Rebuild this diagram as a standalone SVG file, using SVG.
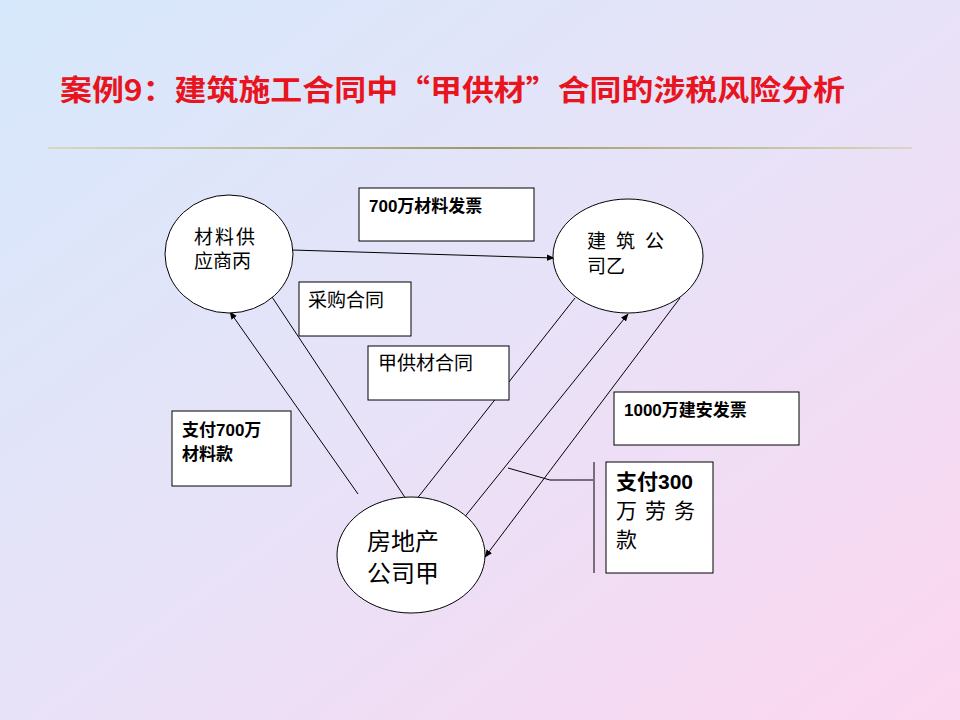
<svg xmlns="http://www.w3.org/2000/svg" width="960" height="720" viewBox="0 0 960 720">
<defs>
<linearGradient id="bg" x1="0" y1="0" x2="1" y2="1"><stop offset="0" stop-color="#d6e8fb"/><stop offset="0.5" stop-color="#e8e2f8"/><stop offset="1" stop-color="#fcd6ef"/></linearGradient>
<linearGradient id="rule" x1="0" y1="0" x2="1" y2="0"><stop offset="0" stop-color="#d8d8c0"/><stop offset="0.5" stop-color="#a09860"/><stop offset="1" stop-color="#d8d8c0"/></linearGradient>
<marker id="ah" viewBox="0 0 10 10" refX="9" refY="5" markerWidth="8" markerHeight="8" orient="auto" markerUnits="userSpaceOnUse"><path d="M0,1 L10,5 L0,9 z" fill="#000"/></marker>
</defs>
<style>
.n{fill:#fff;stroke:#000;stroke-width:1}
.t{font-family:"Liberation Sans","Noto Sans CJK SC",sans-serif;fill:#000}
.b{font-weight:bold;font-size:17px}
.c{stroke:#000;stroke-width:1;fill:none}
</style>
<rect width="960" height="720" fill="url(#bg)"/>
<text x="60" y="101" font-family="'Noto Sans CJK SC',sans-serif" font-size="29" font-weight="bold" fill="#e8141e" textLength="785" lengthAdjust="spacingAndGlyphs">案例9：建筑施工合同中“甲供材”合同的涉税风险分析</text>
<rect x="48" y="147" width="864" height="2" fill="url(#rule)"/>
<g id="connectors">
<line class="c" x1="292" y1="250" x2="554" y2="258" marker-end="url(#ah)"/>
<line class="c" x1="358" y1="494" x2="230" y2="312" marker-end="url(#ah)"/>
<line class="c" x1="272" y1="297" x2="410" y2="505"/>
<line class="c" x1="575" y1="298" x2="412" y2="505"/>
<line class="c" x1="463" y1="519" x2="628" y2="314" marker-end="url(#ah)"/>
<line class="c" x1="680" y1="298" x2="485" y2="557" marker-end="url(#ah)"/>
<polyline class="c" points="508,468 550,480 593,480"/>
<line class="c" x1="594" y1="462" x2="594" y2="573"/>
</g>
<g id="node-bing"><ellipse class="n" cx="229" cy="254" rx="64" ry="59"/><text class="t" x="194" y="244" font-size="19" letter-spacing="2">材料供</text><text class="t" x="194" y="268" font-size="19">应商丙</text></g>
<g id="node-yi"><ellipse class="n" cx="628" cy="256" rx="75" ry="57"/><text class="t" x="587" y="248" font-size="19" letter-spacing="10">建筑公</text><text class="t" x="587" y="273" font-size="19">司乙</text></g>
<g id="node-jia"><ellipse class="n" cx="411" cy="555" rx="74" ry="58"/><text class="t" x="367" y="550" font-size="24">房地产</text><text class="t" x="367" y="582" font-size="24">公司甲</text></g>
<g id="label-invoice700"><rect class="n" x="359" y="188" width="175" height="53"/><text class="t b" x="369" y="212">700万材料发票</text></g>
<g id="label-purchase"><rect class="n" x="299" y="282" width="112" height="54"/><text class="t" x="308" y="307" font-size="19">采购合同</text></g>
<g id="label-jiagong"><rect class="n" x="368" y="346" width="141" height="54"/><text class="t" x="378" y="370" font-size="19">甲供材合同</text></g>
<g id="label-invoice1000"><rect class="n" x="614" y="392" width="185" height="53"/><text class="t b" x="624" y="416">1000万建安发票</text></g>
<g id="label-pay700"><rect class="n" x="172" y="411" width="119" height="75"/><text class="t b" x="182" y="436">支付700万</text><text class="t b" x="182" y="460">材料款</text></g>
<g id="label-pay300"><rect class="n" x="606" y="462" width="107" height="111"/><text class="t" x="616" y="489" font-size="21" font-weight="bold">支付300</text><text class="t" x="616" y="518" font-size="21" letter-spacing="8">万劳务</text><text class="t" x="616" y="547" font-size="21">款</text></g>
</svg>
